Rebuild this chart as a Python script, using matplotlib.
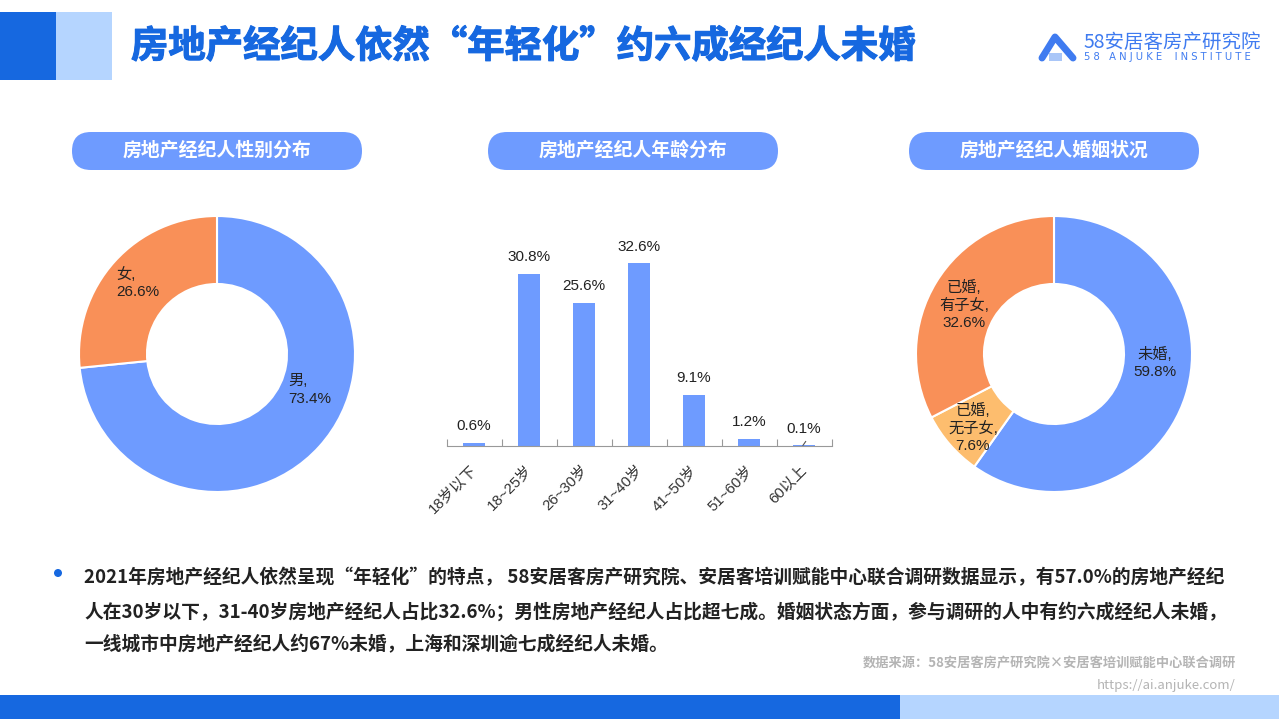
#!/usr/bin/env python3
"""Agent gender, age and marital status charts on a report slide."""

import matplotlib
matplotlib.use("Agg")
import matplotlib.pyplot as plt
import matplotlib.patheffects as pe
from matplotlib.patches import Circle, FancyBboxPatch, Rectangle
from matplotlib.transforms import ScaledTranslation

W, H = 1279, 719
DARK = "#1668E0"
LIGHT = "#B5D5FF"
BLUE = "#6E9BFF"
ORANGE = "#F99058"
PALE_ORANGE = "#FDBD6E"
LOGO = "#3F7BF0"
TEXT = "#222222"
LABEL_FONT = ["Liberation Sans", "Noto Sans CJK SC"]

plt.rcParams["font.family"] = ["Noto Sans CJK SC", "DejaVu Sans"]

gender_labels = ["男", "女"]
gender_values = [73.4, 26.6]

age_labels = ["18岁以下", "18~25岁", "26~30岁", "31~40岁", "41~50岁", "51~60岁", "60以上"]
age_values = [0.6, 30.8, 25.6, 32.6, 9.1, 1.2, 0.1]

marriage_labels = ["未婚", "已婚,\n无子女", "已婚,\n有子女"]
marriage_values = [59.8, 7.6, 32.6]

panel_titles = ["房地产经纪人性别分布", "房地产经纪人年龄分布", "房地产经纪人婚姻状况"]
panel_lefts = [72, 488, 909]

body_lines = [
    "2021年房地产经纪人依然呈现“年轻化”的特点， 58安居客房产研究院、安居客培训赋能中心联合调研数据显示，有57.0%的房地产经纪",
    "人在30岁以下，31-40岁房地产经纪人占比32.6%；男性房地产经纪人占比超七成。婚姻状态方面，参与调研的人中有约六成经纪人未婚，",
    "一线城市中房地产经纪人约67%未婚，上海和深圳逾七成经纪人未婚。",
]


def px_axes(fig, left, top, right, bottom):
    return fig.add_axes([left / W, 1 - bottom / H, (right - left) / W, (bottom - top) / H])


def donut(fig, cx, cy, values, colors):
    ax = px_axes(fig, cx - 138, cy - 138, cx + 138, cy + 138)
    ax.pie(values, colors=colors, startangle=90, counterclock=False, radius=1,
           wedgeprops=dict(width=68 / 138, edgecolor="white", linewidth=1.5))
    ax.set_xlim(-1, 1)
    ax.set_ylim(-1, 1)
    return ax


fig = plt.figure(figsize=(W / 100, H / 100), dpi=100, facecolor="white")

# slide furniture, drawn in pixel coordinates
bg = fig.add_axes([0, 0, 1, 1])
bg.set_xlim(0, W)
bg.set_ylim(H, 0)
bg.axis("off")
bg.add_patch(Rectangle((0, 12), 56, 68, color=DARK, lw=0))
bg.add_patch(Rectangle((56, 12), 56, 68, color=LIGHT, lw=0))
bg.add_patch(Rectangle((0, 695), 900, 24, color=DARK, lw=0))
bg.add_patch(Rectangle((900, 695), 379, 24, color=LIGHT, lw=0))
bg.text(131, 46, "房地产经纪人依然“年轻化”约六成经纪人未婚", fontsize=26.9, fontweight=900,
        color=DARK, va="center", ha="left",
        path_effects=[pe.withStroke(linewidth=0.8, foreground=DARK)])

# logo
bg.plot([1042, 1055, 1073], [58, 37, 58], color=LOGO, lw=5, solid_capstyle="round",
        solid_joinstyle="round")
bg.add_patch(Rectangle((1049, 53), 13, 8, color="#A9C6F8", lw=0))
bg.text(1084, 42, "58安居客房产研究院", fontsize=14, color=LOGO, va="center", ha="left")
bg.text(1084, 57, "5 8   A N J U K E    I N S T I T U T E", fontsize=7.2, color=LOGO,
        family="DejaVu Sans", va="center", ha="left")

for left, title in zip(panel_lefts, panel_titles):
    bg.add_patch(FancyBboxPatch((left, 132), 290, 38, lw=0, facecolor=BLUE,
                                boxstyle="round,pad=0,rounding_size=19", mutation_aspect=1))
    bg.text(left + 145, 150, title, fontsize=13.6, fontweight="bold", color="white",
            va="center", ha="center")

bg.add_patch(Circle((58, 573), 4, color=DARK, lw=0))
for y, line in zip([578, 612, 645], body_lines):
    bg.text(84, y, line, fontsize=13.5, fontweight="bold", color=TEXT, va="center", ha="left")
bg.text(1236, 663, "数据来源：58安居客房产研究院×安居客培训赋能中心联合调研", fontsize=9.5,
        fontweight="bold", color="#B4B4B4", va="center", ha="right")
bg.text(1236, 685, "https://ai.anjuke.com/", fontsize=9.5, color="#B4B4B4", va="center", ha="right")

# gender donut
donut(fig, 217, 354, gender_values, [BLUE, ORANGE])
bg.text(288, 390, f"{gender_labels[0]},\n{gender_values[0]}%", fontsize=11, color=TEXT,
        family=LABEL_FONT, va="center", ha="left", linespacing=1.3, zorder=5)
bg.text(116, 283, f"{gender_labels[1]},\n{gender_values[1]}%", fontsize=11, color=TEXT,
        family=LABEL_FONT, va="center", ha="left", linespacing=1.3, zorder=5)

# age bars
ax = px_axes(fig, 446.5, 222, 831.5, 446)
ax.patch.set_alpha(0)
ages = range(len(age_values))
ax.bar(ages, age_values, width=0.4, color=BLUE)
ax.set_xlim(-0.5, len(age_values) - 0.5)
ax.set_ylim(0, 40)
for i, v in zip(ages, age_values):
    ax.text(i, v + 3, f"{v}%", fontsize=11, color=TEXT, family=LABEL_FONT, ha="center", va="center")
ax.plot([5.98, 6.03], [0.1, 0.8], color="#555555", lw=0.8)
for side in ["top", "right", "left"]:
    ax.spines[side].set_visible(False)
ax.spines["bottom"].set_color("#999999")
ax.set_yticks([])
ax.set_xticks([i - 0.5 for i in range(len(age_values) + 1)])
ax.set_xticklabels([])
ax.tick_params(axis="x", which="major", direction="in", length=5, color="#999999")
ax.set_xticks(list(ages), minor=True)
ax.set_xticklabels(age_labels, minor=True, rotation=45, ha="right", rotation_mode="anchor",
                   fontsize=10.8, color="#333333", family=LABEL_FONT)
ax.tick_params(axis="x", which="minor", length=0, pad=12)
for lab in ax.get_xticklabels(minor=True):
    lab.set_transform(lab.get_transform() + ScaledTranslation(-4 / 100, 0, fig.dpi_scale_trans))

# marital status donut
donut(fig, 1054, 354, marriage_values, [BLUE, PALE_ORANGE, ORANGE])
bg.text(1155, 363, f"{marriage_labels[0]},\n{marriage_values[0]}%", fontsize=11, color=TEXT,
        family=LABEL_FONT, va="center", ha="center", linespacing=1.3, zorder=5)
bg.text(973, 428, f"{marriage_labels[1]},\n{marriage_values[1]}%", fontsize=11, color=TEXT,
        family=LABEL_FONT, va="center", ha="center", linespacing=1.3, zorder=5)
bg.text(964, 305, f"{marriage_labels[2]},\n{marriage_values[2]}%", fontsize=11, color=TEXT,
        family=LABEL_FONT, va="center", ha="center", linespacing=1.3, zorder=5)

# labels sit on a top layer so the donuts do not cover them
bg.set_zorder(3)
bg.patch.set_alpha(0)

fig.savefig("out.png", dpi=100, facecolor="white")
plt.close(fig)
